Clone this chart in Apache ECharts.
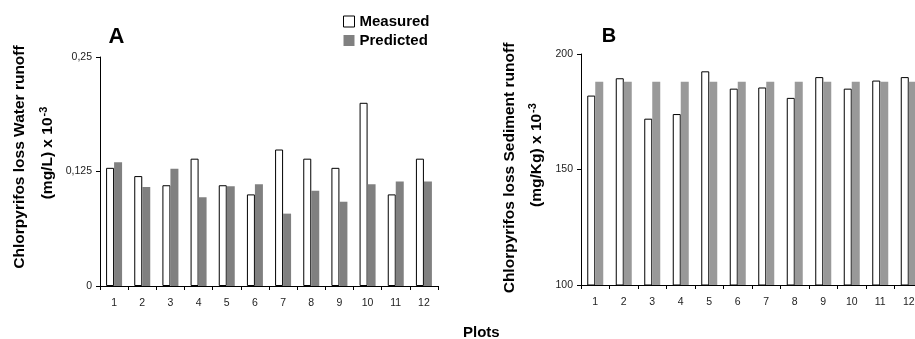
<!DOCTYPE html>
<html><head><meta charset="utf-8">
<script src="https://cdn.jsdelivr.net/npm/echarts@6/dist/echarts.min.js"></script>
<style>html,body{margin:0;padding:0;background:#fff;overflow:hidden;width:915px;height:339px}#c{width:925px;height:339px}</style>
</head><body><div id="c"></div>
<script>
const plots = ['1','2','3','4','5','6','7','8','9','10','11','12'];
const waterMeasured = [0.129, 0.120, 0.110, 0.139, 0.110, 0.100, 0.149, 0.139, 0.129, 0.200, 0.100, 0.139];
const waterPredicted = [0.135, 0.108, 0.128, 0.097, 0.109, 0.111, 0.079, 0.104, 0.092, 0.111, 0.114, 0.114];
const sedMeasured = [182, 189.5, 172, 174, 192.5, 185, 185.5, 181, 190, 185, 188.5, 190];
const sedPredicted = [188, 188, 188, 188, 188, 188, 188, 188, 188, 188, 188, 188];
const waterTicks = [0, 0.125, 0.25];
const sedTicks = [100, 150, 200];

const FONT = '"Liberation Sans", Arial, sans-serif';
const chart = echarts.init(document.getElementById('c'), null, {renderer: 'canvas'});

function xAx(gi) {
  return {
    type: 'category', gridIndex: gi, data: plots,
    axisLine: {lineStyle: {color: '#000', width: 1}},
    axisTick: {show: true, length: 4, lineStyle: {color: '#000'}},
    axisLabel: {color: '#222', fontSize: 10.5, fontFamily: FONT, margin: 12}
  };
}
function yAx(gi, ticks, fmt) {
  return {
    type: 'value', gridIndex: gi, min: ticks[0], max: ticks[ticks.length - 1],
    interval: ticks[1] - ticks[0],
    axisLine: {show: true, lineStyle: {color: '#000', width: 1}},
    axisTick: {show: true, length: 4, lineStyle: {color: '#000'}},
    splitLine: {show: false},
    axisLabel: {color: '#222', fontSize: 10.5, fontFamily: FONT, margin: 8, formatter: fmt}
  };
}
const measuredStyle = {color: '#fff', borderColor: '#000', borderWidth: 1};

chart.setOption({
  animation: false,
  backgroundColor: '#fff',
  grid: [
    {left: 100, top: 57, width: 338, height: 229},
    {left: 581, top: 54, width: 342, height: 231}
  ],
  xAxis: [xAx(0), xAx(1)],
  yAxis: [
    yAx(0, waterTicks, v => String(v).replace('.', ',')),
    yAx(1, sedTicks, v => String(v))
  ],
  legend: {
    orient: 'vertical', left: 343, top: 14, padding: 0, itemWidth: 11, itemHeight: 11, itemGap: 4,
    textStyle: {fontSize: 15, fontWeight: 'bold', color: '#000', fontFamily: FONT, lineHeight: 13},
    data: [
      {name: 'Measured', icon: 'rect', itemStyle: measuredStyle},
      {name: 'Predicted', icon: 'rect', itemStyle: {color: '#808080'}}
    ],
    selectedMode: false
  },
  series: [
    {name: 'Measured', type: 'bar', xAxisIndex: 0, yAxisIndex: 0, data: waterMeasured, barWidth: 8, barGap: '0%', itemStyle: measuredStyle},
    {name: 'Predicted', type: 'bar', xAxisIndex: 0, yAxisIndex: 0, data: waterPredicted, barWidth: 8, barGap: '0%', itemStyle: {color: '#808080'}},
    {name: 'Measured', type: 'bar', xAxisIndex: 1, yAxisIndex: 1, data: sedMeasured, barWidth: 8, barGap: '0%', itemStyle: measuredStyle},
    {name: 'Predicted', type: 'bar', xAxisIndex: 1, yAxisIndex: 1, data: sedPredicted, barWidth: 8, barGap: '0%', itemStyle: {color: '#999999'}}
  ],
  graphic: [
    {type: 'text', x: 116.5, y: 37, style: {text: 'A', font: 'bold 22px ' + FONT, fill: '#000', align: 'center', verticalAlign: 'middle'}},
    {type: 'text', x: 609, y: 36.5, style: {text: 'B', font: 'bold 20px ' + FONT, fill: '#000', align: 'center', verticalAlign: 'middle'}},
    {type: 'text', x: 20, y: 157, rotation: Math.PI / 2, style: {text: 'Chlorpyrifos loss Water runoff', font: 'bold 15.5px ' + FONT, fill: '#000', align: 'center', verticalAlign: 'middle'}},
    {type: 'text', x: 48, y: 153, rotation: Math.PI / 2, style: {text: '(mg/L) x 10{sup|-3}', font: 'bold 15.5px ' + FONT, fill: '#000', align: 'center', verticalAlign: 'middle',
      rich: {sup: {font: 'bold 11px ' + FONT, fill: '#000', verticalAlign: 'top', padding: [0, 0, 8, 1]}}}},
    {type: 'text', x: 510, y: 168, rotation: Math.PI / 2, style: {text: 'Chlorpyrifos loss Sediment runoff', font: 'bold 15.5px ' + FONT, fill: '#000', align: 'center', verticalAlign: 'middle'}},
    {type: 'text', x: 537, y: 155, rotation: Math.PI / 2, style: {text: '(mg/Kg) x 10{sup|-3}', font: 'bold 15.5px ' + FONT, fill: '#000', align: 'center', verticalAlign: 'middle',
      rich: {sup: {font: 'bold 11px ' + FONT, fill: '#000', verticalAlign: 'top', padding: [0, 0, 8, 1]}}}},
    {type: 'text', x: 463, y: 333, style: {text: 'Plots', font: 'bold 15px ' + FONT, fill: '#000', align: 'left', verticalAlign: 'middle'}}
  ]
});
</script></body></html>
